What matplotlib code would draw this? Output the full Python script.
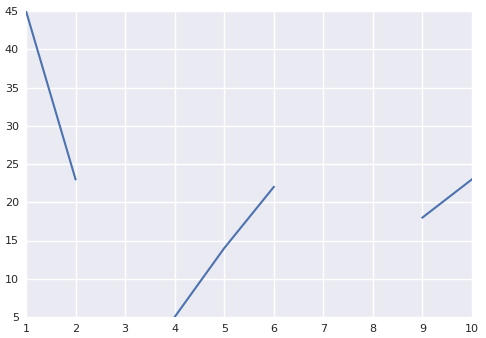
import numpy as np
import matplotlib
matplotlib.use("Agg")
import matplotlib.pyplot as plt

x = [1, 2, 3, 4, 5, 6, 7, 8, 9, 10]
y = [45, 23, np.nan, 5, 14, 22, np.nan, np.nan, 18, 23]

plt.rcParams.update({
    "font.family": ["DejaVu Sans"],
    "axes.facecolor": "#EAEAF2",
    "axes.edgecolor": "white",
    "grid.color": "white",
    "axes.grid": True,
    "text.color": ".15",
    "xtick.color": ".15",
    "ytick.color": ".15",
})

fig = plt.figure(figsize=(4.86, 3.38), dpi=100)
ax = fig.add_axes([26/486, 21/338, 446/486, 306/338])
ax.plot(x, y, color="#4C72B0", linewidth=1.5)
ax.set_xlim(1, 10)
ax.set_ylim(5, 45)
ax.set_xticks(range(1, 11))
ax.set_yticks(range(5, 50, 5))
ax.tick_params(length=0, labelsize=8, pad=5)
ax.grid(True, color="white", linewidth=1)
ax.set_axisbelow(True)
for s in ax.spines.values():
    s.set_visible(False)
fig.savefig("out.png", dpi=100)
